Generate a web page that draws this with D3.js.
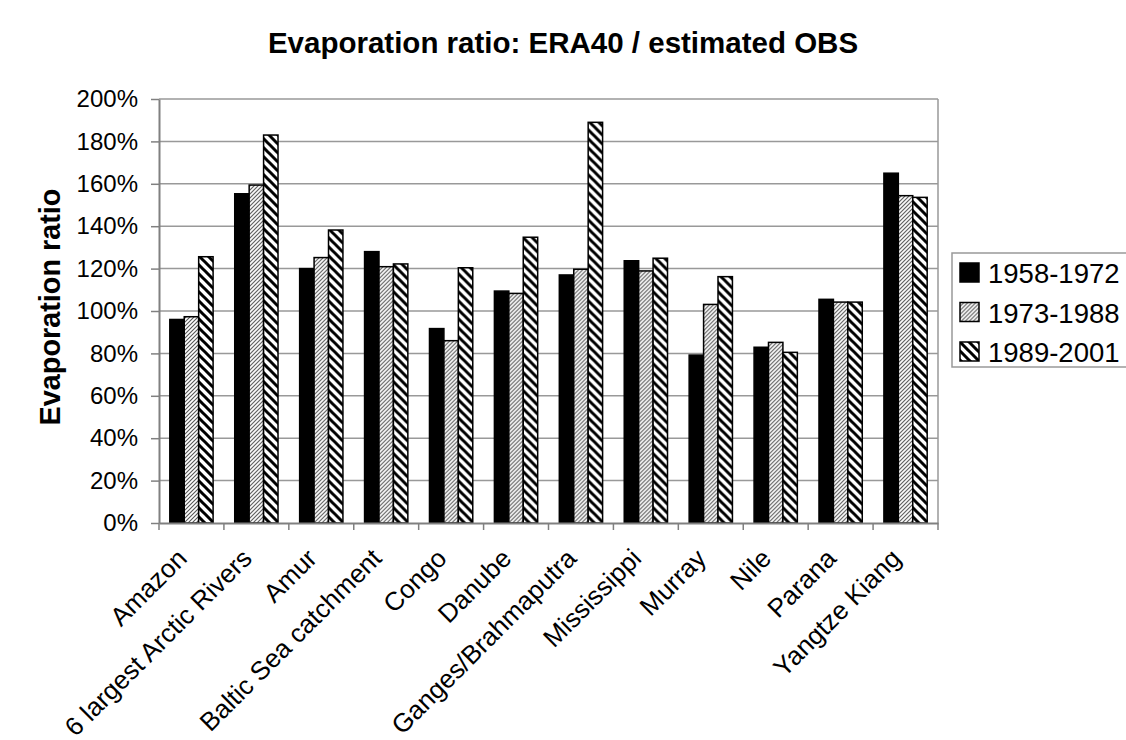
<!DOCTYPE html>
<html>
<head>
<meta charset="utf-8">
<script src="https://cdn.jsdelivr.net/npm/d3@7"></script>
<style>
  html, body { margin: 0; padding: 0; background: #fff; }
  svg { display: block; font-family: "Liberation Sans", Arial, sans-serif; }
</style>
</head>
<body>
<svg id="chart" width="1126" height="740"></svg>
<script>
// River basins and evaporation ratios (ERA40 / estimated observations)
const basins = ["Amazon", "6 largest Arctic Rivers", "Amur", "Baltic Sea catchment", "Congo",
  "Danube", "Ganges/Brahmaputra", "Mississippi", "Murray", "Nile", "Parana", "Yangtze Kiang"];
const periods = ["1958-1972", "1973-1988", "1989-2001"];
const ratio1958 = [0.96, 1.553, 1.20, 1.28, 0.917, 1.094, 1.17, 1.237, 0.792, 0.829, 1.055, 1.65];
const ratio1973 = [0.973, 1.594, 1.252, 1.209, 0.86, 1.083, 1.197, 1.189, 1.031, 0.852, 1.042, 1.544];
const ratio1989 = [1.256, 1.83, 1.382, 1.222, 1.204, 1.348, 1.89, 1.249, 1.162, 0.805, 1.042, 1.536];
const yTicks = [0, 0.2, 0.4, 0.6, 0.8, 1.0, 1.2, 1.4, 1.6, 1.8, 2.0];

const series = [ratio1958, ratio1973, ratio1989];

const svg = d3.select("#chart");
const plot = { left: 159, right: 938, top: 99, bottom: 523 };

// Fill patterns
const defs = svg.append("defs");
const p2 = defs.append("pattern").attr("id", "fineHatch")
  .attr("patternUnits", "userSpaceOnUse").attr("width", 4).attr("height", 4);
p2.append("rect").attr("width", 4).attr("height", 4).attr("fill", "#fff");
p2.append("path").attr("d", "M-1,1 l2,-2 M0,4 l4,-4 M3,5 l2,-2")
  .attr("stroke", "#555").attr("stroke-width", 1.1);

const p3 = defs.append("pattern").attr("id", "wideHatch")
  .attr("patternUnits", "userSpaceOnUse").attr("width", 9).attr("height", 9);
p3.append("rect").attr("width", 9).attr("height", 9).attr("fill", "#fff");
p3.append("path").attr("d", "M-2,-2 l13,13 M-2,7 l4,4 M7,-2 l4,4")
  .attr("stroke", "#000").attr("stroke-width", 3);

const fills = ["#000", "url(#fineHatch)", "url(#wideHatch)"];

const x = d3.scaleBand().domain(basins).range([plot.left, plot.right]).padding(0);
const y = d3.scaleLinear().domain([0, 2]).range([plot.bottom, plot.top]);
const xs = d3.scaleBand().domain(d3.range(3))
  .range([x.bandwidth() * 0.75 / 4.5, x.bandwidth() * 3.75 / 4.5]).padding(0);

// Gridlines
svg.append("g").selectAll("line").data(yTicks.slice(1)).join("line")
  .attr("x1", plot.left).attr("x2", plot.right)
  .attr("y1", d => y(d)).attr("y2", d => y(d))
  .attr("stroke", "#999").attr("stroke-width", 1.5);
// Plot frame (right edge)
svg.append("line").attr("x1", plot.right).attr("x2", plot.right)
  .attr("y1", plot.top).attr("y2", plot.bottom)
  .attr("stroke", "#999").attr("stroke-width", 1.5);

// Bars
const groups = svg.append("g").selectAll("g").data(basins).join("g")
  .attr("transform", d => `translate(${x(d)},0)`);
groups.selectAll("rect").data((d, i) => series.map((s, k) => ({ k, v: s[i] }))).join("rect")
  .attr("x", d => xs(d.k)).attr("width", xs.bandwidth())
  .attr("y", d => y(d.v)).attr("height", d => y(0) - y(d.v))
  .attr("fill", d => fills[d.k]).attr("stroke", "#000").attr("stroke-width", 1.5);

// Y axis
const yAxis = d3.axisLeft(y).tickValues(yTicks).tickFormat(d3.format(".0%"))
  .tickSizeInner(8).tickSizeOuter(0).tickPadding(13);
const gy = svg.append("g").attr("transform", `translate(${plot.left},0)`).call(yAxis);
gy.select(".domain").attr("stroke", "#808080").attr("stroke-width", 2);
gy.selectAll(".tick line").attr("stroke", "#808080").attr("stroke-width", 1.5);
gy.selectAll("text").attr("font-size", 24).attr("fill", "#000")
  .attr("font-family", "Liberation Sans, Arial, sans-serif");

// X axis
const xAxis = d3.axisBottom(x).tickValues([]).tickSizeOuter(0);
const gx = svg.append("g").attr("transform", `translate(0,${plot.bottom})`).call(xAxis);
gx.select(".domain").attr("stroke", "#808080").attr("stroke-width", 2);
gx.selectAll(".sep").data(d3.range(basins.length + 1)).join("line").attr("class", "sep")
  .attr("x1", i => plot.left + i * x.step()).attr("x2", i => plot.left + i * x.step())
  .attr("y1", 0).attr("y2", 7).attr("stroke", "#808080").attr("stroke-width", 1.5);
gx.selectAll(".lbl").data(basins).join("text").attr("class", "lbl")
  .attr("transform", d => `translate(${x(d) + x.bandwidth() / 2 - 3},${37}) rotate(-45)`)
  .attr("text-anchor", "end").attr("font-size", 26).attr("fill", "#000")
  .text(d => d);

// Titles
svg.append("text").attr("x", 563).attr("y", 53).attr("text-anchor", "middle")
  .attr("font-size", 29.5).attr("font-weight", "bold").text("Evaporation ratio: ERA40 / estimated OBS");
svg.append("text").attr("transform", `translate(60,307) rotate(-90)`)
  .attr("text-anchor", "middle").attr("font-size", 28.8).attr("font-weight", "bold")
  .text("Evaporation ratio");

// Legend
const lg = svg.append("g").attr("transform", "translate(952,253)");
lg.append("rect").attr("width", 180).attr("height", 114)
  .attr("fill", "#fff").attr("stroke", "#999").attr("stroke-width", 1.5);
const items = lg.selectAll(".item").data(periods).join("g").attr("class", "item")
  .attr("transform", (d, i) => `translate(8,${10 + i * 39.5})`);
items.append("rect").attr("width", 19).attr("height", 19)
  .attr("fill", (d, i) => fills[i]).attr("stroke", "#000").attr("stroke-width", 1.5);
items.append("text").attr("x", 28).attr("y", 20).attr("font-size", 27.5).text(d => d);
</script>
</body>
</html>
